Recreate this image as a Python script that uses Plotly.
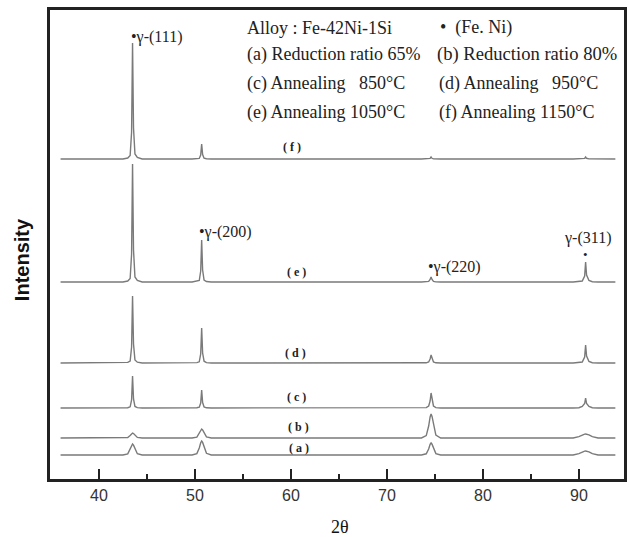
import plotly.graph_objects as go

# 2-theta sample points (degrees)
two_theta = [36.0,
             42.5, 43.0, 43.25, 43.4, 43.5, 43.6, 43.75, 44.0, 44.5,
             49.7, 50.2, 50.45, 50.6, 50.7, 50.8, 50.95, 51.2, 51.7,
             73.6, 74.1, 74.35, 74.5, 74.6, 74.7, 74.85, 75.1, 75.6,
             89.4, 90.0, 90.35, 90.6, 90.7, 90.8, 91.05, 91.4, 92.0,
             93.8]

# intensities above each pattern's own baseline (arbitrary units)
int_a = [0,
         0, 1.1, 5.5, 9.7, 11, 9.9, 6, 1.3, 0,
         0, 1.4, 7, 12.3, 14, 12.6, 7.7, 1.7, 0,
         0, 1.2, 6, 10.6, 12, 10.8, 6.6, 1.4, 0,
         0, 1.4, 3.2, 3.9, 4, 3.9, 3.2, 1.4, 0,
         0]
int_b = [0,
         0, 0.5, 2.5, 4.4, 5, 4.5, 2.7, 0.6, 0,
         0, 0.9, 4.5, 8, 9, 8.1, 5, 1.1, 0,
         0, 2.4, 12, 21, 24, 21.6, 13, 2.9, 0,
         0, 1.4, 3.2, 3.9, 4, 3.9, 3.2, 1.4, 0,
         0]
int_c = [0,
         0, 0.3, 1.2, 8, 32, 9, 1.5, 0.4, 0,
         0, 0.2, 0.8, 5, 18, 5.5, 1, 0.2, 0,
         0, 0.4, 2, 7, 15, 7.5, 2, 0.4, 0,
         0, 0.3, 1.5, 4.5, 10, 4.5, 1.5, 0.3, 0,
         0]
int_d = [0,
         0, 0.6, 2, 16, 67, 19, 3, 0.8, 0,
         0, 0.4, 1.2, 9, 35, 10, 1.8, 0.4, 0,
         0, 0.2, 1, 4, 8, 4, 1, 0.2, 0,
         0, 0.2, 1, 6, 18, 7, 1.5, 0.3, 0,
         0]
int_e = [0,
         0, 1, 3.5, 28, 118, 32, 5, 1.5, 0,
         0, 0.5, 1.5, 11, 42, 12, 2, 0.5, 0,
         0, 0.1, 0.6, 2.5, 5, 2.5, 0.6, 0.1, 0,
         0, 0.2, 1, 6, 20, 7, 1.5, 0.3, 0,
         0]
int_f = [0,
         0, 1, 3.5, 27, 116, 31, 5, 1.5, 0,
         0, 0.2, 0.6, 4, 15, 4.5, 0.8, 0.2, 0,
         0, 0, 0.1, 0.6, 2, 0.7, 0.1, 0, 0,
         0, 0, 0.1, 0.6, 2, 0.7, 0.1, 0, 0,
         0]

series = [int_a, int_b, int_c, int_d, int_e, int_f]
series_names = ["(a)", "(b)", "(c)", "(d)", "(e)", "(f)"]
offsets = [24, 41, 71, 116, 197, 320]   # vertical stacking offsets

x_ticks = [40, 50, 60, 70, 80, 90]

fig = go.Figure()
for name, vals, off in zip(series_names, series, offsets):
    fig.add_trace(go.Scatter(
        x=two_theta, y=[v + off for v in vals], mode="lines", name=name,
        line=dict(color="#7a7a7a", width=1.4), showlegend=False))

# plot area in pixels: left 50, right 627, top 10, bottom 479
def px(x):
    return (x - 50) / 577.0

def py(y):
    return (479 - y) / 469.0

serif = "Liberation Serif, Times New Roman, serif"
ann = []

def text(x, y, s, size=18, anchor="left", bold=False, fam=serif, color="#222", angle=0):
    ann.append(dict(x=px(x), y=py(y), xref="paper", yref="paper", text=("<b>%s</b>" % s) if bold else s,
                    showarrow=False, xanchor=anchor, yanchor="middle", textangle=angle,
                    font=dict(family=fam, size=size, color=color)))

# legend-like text block
text(246, 28, "Alloy : Fe-42Ni-1Si")
text(440, 28, "•  (Fe. Ni)")
text(246, 54, "(a) Reduction ratio 65%")
text(437, 54, "(b) Reduction ratio 80%", size=18.6)
text(246, 84, "(c) Annealing   850°C")
text(439, 84, "(d) Annealing   950°C")
text(246, 113, "(e) Annealing 1050°C")
text(439, 113, "(f) Annealing 1150°C")

# peak labels
text(129, 37, "•γ-(111)", size=16)
text(198, 232, "•γ-(200)", size=16)
text(428, 267, "•γ-(220)", size=16)
text(590, 238, "γ-(311)", size=16, anchor="center")
text(588, 255, "•", size=13, anchor="center")

# curve labels
for lab, (x, y) in zip(["( f )", "( e )", "( d )", "( c )", "( b )", "( a )"],
                       [(293, 147), (298, 272), (297, 353), (298, 397), (300, 427), (300, 448)]):
    text(x, y, lab, size=12, anchor="center", bold=True)

# axis titles
text(22, 260, "Intensity", size=20, anchor="center", bold=True,
     fam="Liberation Sans, Arial, sans-serif", angle=-90, color="#111")
text(342, 527, "2θ", size=18, anchor="center", fam=serif, color="#111")

fig.update_layout(
    width=629, height=537,
    margin=dict(l=50, r=2, t=10, b=58),
    paper_bgcolor="white", plot_bgcolor="white",
    annotations=ann,
    xaxis=dict(range=[34.9, 94.7], tickvals=x_ticks, ticks="inside", ticklen=10, tickwidth=2,
               tickcolor="#222", showline=True, linewidth=2.5, linecolor="#222", mirror=True,
               showgrid=False, zeroline=False,
               tickfont=dict(family="Liberation Sans, Arial, sans-serif", size=16, color="#333"),
               minor=dict(dtick=5, tick0=0, ticks="inside", ticklen=5, tickwidth=2, tickcolor="#222",
                          showgrid=False)),
    yaxis=dict(range=[0, 469], showticklabels=False, ticks="", showline=True, linewidth=2.5,
               linecolor="#222", mirror=True, showgrid=False, zeroline=False),
)

fig.write_html("out.html")
